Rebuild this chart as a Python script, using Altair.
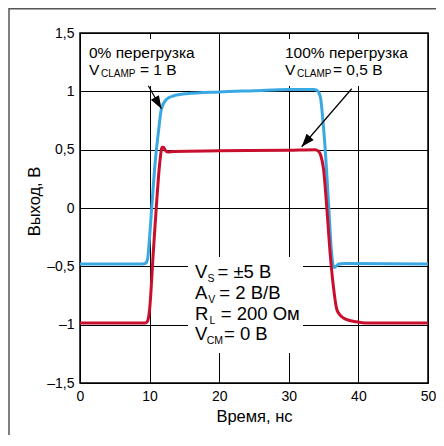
import altair as alt
import pandas as pd

# ---------------- data ----------------
blue_t = [0, 9.0, 9.4, 9.7, 10.0, 10.3, 10.8, 11.3, 11.7, 12.4, 13.4, 15.3, 20.0, 25.0, 30.0, 33.6,
          34.0, 34.3, 34.6, 34.9, 35.2, 35.5, 35.8, 36.1, 36.3, 36.5, 36.8, 37.2, 38.0, 50.0]
blue_v = [-0.48, -0.48, -0.475, -0.44, -0.25, 0.0, 0.39, 0.67, 0.85, 0.93, 0.96, 0.98, 0.995, 1.005, 1.015, 1.015,
          1.01, 0.99, 0.93, 0.75, 0.53, 0.25, -0.05, -0.35, -0.47, -0.51, -0.50, -0.48, -0.475, -0.48]

red_t = [0, 9.4, 9.7, 10.0, 10.5, 11.0, 11.5, 11.8, 12.0, 12.3, 12.6, 13.5, 20.0, 30.0, 33.8,
         34.2, 34.6, 35.0, 35.45, 35.9, 36.4, 36.9, 37.4, 37.8, 38.5, 39.7, 41.0, 50.0]
red_v = [-0.985, -0.985, -0.97, -0.87, -0.41, 0.04, 0.41, 0.52, 0.52, 0.49, 0.48, 0.485, 0.49, 0.495, 0.5,
         0.49, 0.45, 0.33, 0.01, -0.36, -0.67, -0.87, -0.92, -0.94, -0.96, -0.975, -0.985, -0.985]

x_ticks = [0, 5, 10, 15, 20, 25, 30, 35, 40, 45, 50]
y_ticks = [-1.5, -1, -0.5, 0, 0.5, 1, 1.5]

# arrows: start (t, v) -> tip (t, v)
arrow_t = [9.81, 39.04]
arrow_v = [1.048, 1.022]
arrow_t2 = [11.70, 31.85]
arrow_v2 = [0.851, 0.525]
arrow_angle = [149.8, 220.8]

BLUE = "#3aa8e2"
RED = "#c8102e"
FONT = "Liberation Sans"

W, H = 348, 350

blue_df = pd.DataFrame({"t": blue_t, "v": blue_v})
red_df = pd.DataFrame({"t": red_t, "v": red_v})
arr_df = pd.DataFrame({"t": arrow_t, "v": arrow_v, "t2": arrow_t2, "v2": arrow_v2, "a": arrow_angle})

xs = alt.Scale(domain=[0, 50], nice=False, zero=False)
ys = alt.Scale(domain=[-1.5, 1.5], nice=False, zero=False)

y_label_expr = ("datum.value < 0 ? '–' + replace(toString(abs(datum.value)), '.', ',') "
                ": replace(toString(datum.value), '.', ',')")

x_axis = alt.Axis(values=x_ticks, labelExpr="datum.value % 10 == 0 ? toString(datum.value) : ''",
                  labelPadding=6, labelFlush=False, labelOverlap=False,
                  title="Время, нс", titleBaseline="alphabetic", titleY=38.5)
y_axis = alt.Axis(values=y_ticks, labelExpr=y_label_expr, labelPadding=6, labelOverlap=False,
                  title="Выход, В", titleX=-41, titleY=168, titleAngle=270,
                  titleAlign="center", titleBaseline="alphabetic")

base = alt.Chart(blue_df).mark_line(strokeWidth=0, opacity=0).encode(
    x=alt.X("t:Q", scale=xs, axis=x_axis),
    y=alt.Y("v:Q", scale=ys, axis=y_axis),
)

one = pd.DataFrame({"k": [0]})


def box(x1, x2, y1, y2):
    return alt.Chart(one).mark_rect(fill="white", stroke=None).encode(
        x=alt.value(x1), x2=alt.value(x2), y=alt.value(y1), y2=alt.value(y2))


def txt(s, x, y, size):
    return alt.Chart(pd.DataFrame({"s": [s]})).mark_text(
        align="left", baseline="alphabetic", font=FONT, fontSize=size, color="#000"
    ).encode(text="s:N", x=alt.value(x), y=alt.value(y))


boxes = [box(2, 126, 6, 53), box(201, 336, 6, 53), box(108, 223, 224, 320)]

blue_line = alt.Chart(blue_df).mark_line(color=BLUE, strokeWidth=3, interpolate="monotone",
                                         strokeJoin="round").encode(
    x=alt.X("t:Q", scale=xs), y=alt.Y("v:Q", scale=ys))
red_line = alt.Chart(red_df).mark_line(color=RED, strokeWidth=3, interpolate="monotone",
                                       strokeJoin="round").encode(
    x=alt.X("t:Q", scale=xs), y=alt.Y("v:Q", scale=ys))

arrow_lines = alt.Chart(arr_df).mark_rule(color="#000", strokeWidth=1.2).encode(
    x=alt.X("t:Q", scale=xs), y=alt.Y("v:Q", scale=ys), x2="t2:Q", y2="v2:Q")
arrow_heads = alt.Chart(arr_df).mark_point(
    shape="M0,0L-0.36,1L0.36,1Z", filled=True, color="#000", opacity=1, size=676
).encode(x=alt.X("t2:Q", scale=xs), y=alt.Y("v2:Q", scale=ys), angle=alt.Angle("a:Q", scale=None))

M = 18.5   # main font of the middle block
S = 10.5   # its subscripts
texts = [
    txt("0% перегрузка", 9, 25, 15.5),
    txt("V", 9, 41.7, 15.5), txt("CLAMP", 21, 44, 10), txt("= 1 В", 60, 41.7, 15.5),
    txt("100% перегрузка", 205, 25, 15.5),
    txt("V", 205, 41.7, 15.5), txt("CLAMP", 217, 44, 10), txt("= 0,5 В", 253, 41.7, 15.5),
    txt("V", 115, 245, M), txt("S", 127.5, 249, S), txt("= ±5 В", 137.5, 245, M),
    txt("A", 115, 266, M), txt("V", 128.3, 269.6, S), txt("= 2 В/В", 139.3, 266, M),
    txt("R", 115, 286.7, M), txt("L", 129.5, 290.5, S), txt("= 200 Ом", 140.7, 286.7, M),
    txt("V", 115, 307.4, M), txt("CM", 126.7, 311, S), txt("= 0 В", 144, 307.4, M),
]

frame_left = alt.Chart(one).mark_rule(color="#555", strokeWidth=1.5).encode(
    x=alt.value(-71), y=alt.value(-25), y2=alt.value(402))
frame_top = alt.Chart(one).mark_rule(color="#555", strokeWidth=1.5).encode(
    x=alt.value(-71), x2=alt.value(356), y=alt.value(-24.2))

chart = alt.layer(
    base, *boxes, blue_line, red_line, arrow_lines, arrow_heads, *texts, frame_left, frame_top
).properties(
    width=W, height=H,
    autosize=alt.AutoSizeParams(type="none"),
    padding={"left": 72, "top": 25, "right": 8, "bottom": 52},
).configure_view(
    stroke="#000", strokeWidth=1.5
).configure_axis(
    grid=True, gridColor="#000", gridWidth=1, gridOpacity=1, domain=False, ticks=False,
    labelFont=FONT, labelFontSize=14, labelColor="#000",
    titleFont=FONT, titleFontSize=16.5, titleFontWeight="normal", titleColor="#000",
)

chart.save("out.html", embed_options={"renderer": "svg", "actions": False})
